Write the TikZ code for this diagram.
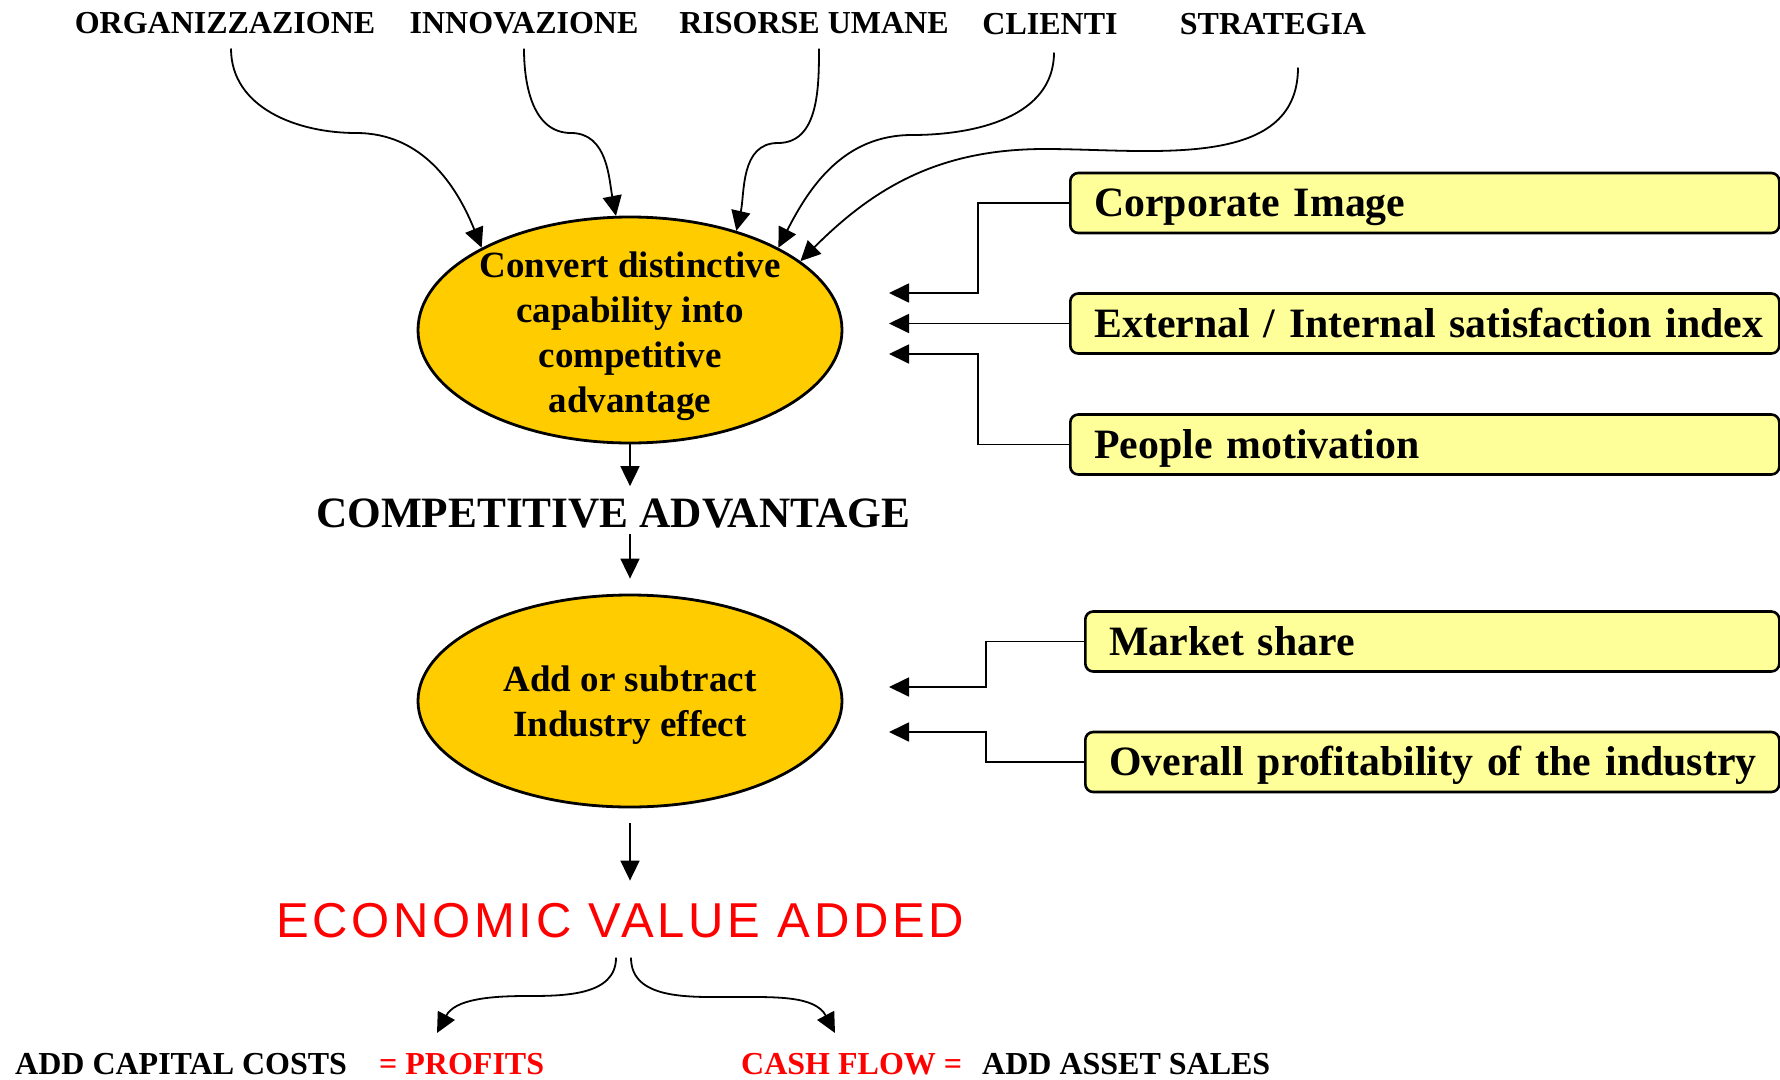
\documentclass[tikz,border=0pt]{standalone}
\usepackage{fontspec}
\usetikzlibrary{arrows.meta,shapes.geometric,calc}
\newfontfamily\tnr{Liberation Serif}
\newfontfamily\evaf[LetterSpace=7.5]{Liberation Sans}
\definecolor{goldfill}{HTML}{FFCC00}
\definecolor{boxfill}{HTML}{FFFF99}
\definecolor{evared}{HTML}{FF0000}
\begin{document}
\begin{tikzpicture}[x=1pt,y=1pt,
  conn/.style={line width=1.8pt,-{Triangle[length=20pt,width=19pt]}},
  elbow/.style={conn,rounded corners=0pt},
  toplbl/.style={anchor=base,inner sep=0pt,font=\tnr\bfseries\fontsize{32}{36}\selectfont},
  oval/.style={ellipse,draw=black,line width=2.8pt,fill=goldfill,minimum width=424pt,inner sep=0pt},
  ovaltext/.style={align=center,inner sep=0pt,font=\tnr\bfseries\fontsize{37}{45}\selectfont},
  ibox/.style={draw=black,line width=2.6pt,fill=boxfill,rounded corners=8pt,anchor=west,
    minimum height=60pt,inner xsep=8pt,inner ysep=0pt,text height=36pt,text depth=9pt,
    align=left,font=\tnr\bfseries\fontsize{41.8}{46}\selectfont},
  botlbl/.style={anchor=base west,inner sep=0pt,font=\tnr\bfseries\fontsize{32}{36}\selectfont}]
\useasboundingbox (0,0) rectangle (1780,-1079);
\fill[white] (0,0) rectangle (1780,-1079);

% top labels
\node[toplbl] (org) at (225,-33) {ORGANIZZAZIONE};
\node[toplbl] (inn) at (524,-33) {INNOVAZIONE};
\node[toplbl] (ris) at (814,-33) {RISORSE UMANE};
\node[toplbl] (cli) at (1050,-34) {CLIENTI};
\node[toplbl] (str) at (1273,-34) {STRATEGIA};

% ellipses
\node[oval,minimum height=226pt] (e1) at (630,-330) {};
\node[ovaltext] (e1t) at (630,-336) {Convert distinctive\\capability into\\competitive\\advantage};
\node[oval,minimum height=212pt] (e2) at (630,-701) {};
\node[ovaltext] (e2t) at (630,-705) {Add or subtract\\Industry effect};

% middle labels
\node[anchor=base,inner sep=0pt,font=\tnr\bfseries\fontsize{43.3}{47}\selectfont] (ca) at (613,-527) {COMPETITIVE ADVANTAGE};
\node[anchor=base west,inner sep=0pt,text=evared,font=\evaf\fontsize{49}{54}\selectfont] (eva) at (276,-937) {ECONOMIC VALUE ADDED};

% bottom labels
\node[botlbl] (acc) at (15,-1074) {ADD CAPITAL COSTS};
\node[botlbl,text=evared] (prof) at (379,-1074) {= PROFITS};
\node[botlbl,text=evared] (cash) at (741,-1074) {CASH FLOW =};
\node[botlbl] (aas) at (982,-1074) {ADD ASSET SALES};

% right boxes
\node[ibox,text width=693pt] (b1) at (1069,-203) {\mbox{\hspace*{16pt}Corporate Image}};
\node[ibox,text width=693pt] (b2) at (1069,-323.5) {\mbox{\hspace*{16pt}External / Internal satisfaction index}};
\node[ibox,text width=693pt] (b3) at (1069,-444.5) {\mbox{\hspace*{16pt}People motivation}};
\node[ibox,text width=678pt] (b4) at (1084,-641.5) {\mbox{\hspace*{16pt}Market share}};
\node[ibox,text width=678pt] (b5) at (1084,-762) {\mbox{\hspace*{16pt}Overall profitability of the industry}};

% arrow tip coordinates near ellipses
\coordinate (t1) at (889,-293);
\coordinate (t2) at (889,-323.5);
\coordinate (t3) at (889,-354);
\coordinate (t4) at (889,-687);
\coordinate (t5) at (889,-732);

% elbow connectors
\draw[elbow] (b1.west) -- (978,-203) |- (t1);
\draw[elbow] (b2.west) -- (t2);
\draw[elbow] (b3.west) -- (978,-444.5) |- (t3);
\draw[elbow] (b4.west) -- (986,-641.5) |- (t4);
\draw[elbow] (b5.west) -- (986,-762) |- (t5);

% top curved connectors
\coordinate (m1) at (356,-133);
\coordinate (m2) at (571,-133);
\coordinate (m3) at (778,-143);
\coordinate (m4) at (912,-135);
\coordinate (m5) at (1045,-149);
\draw[conn] ([xshift=6pt,yshift=-15pt]org.south) to[out=-90,in=180] (m1) to[out=0,in=112] (e1.151.2);
\draw[conn] ([yshift=-15pt]inn.south) to[out=-90,in=180] (m2) to[out=0,in=101] (e1.97.6);
\draw[conn] ([xshift=5pt,yshift=-15pt]ris.south) to[out=-90,in=0] (m3) to[out=180,in=77] (e1.43);
\draw[conn] ([xshift=4pt,yshift=-18pt]cli.south) to[out=-90,in=0] (m4) to[out=180,in=63] (e1.29.5);
\draw[conn] ([xshift=25pt,yshift=-33pt]str.south) to[out=-90,in=0] (m5) to[out=180,in=45] (e1.22.5);

% vertical flow
\draw[conn,shorten >=12pt] (e1.south) -- (e1.south |- ca.north);
\draw[conn,shorten <=6pt,shorten >=15pt] (e2.north |- ca.south) -- (e2.north);
\draw[conn,shorten <=15pt,shorten >=22pt] (e2.south) -- (e2.south |- eva.north);

% bottom curved connectors
\coordinate (ml) at (527,-996);
\coordinate (mr) at (732,-997);
\coordinate (tl) at (437,-1033);
\coordinate (tr) at (835,-1033);
\draw[conn] ([xshift=-14pt,yshift=-20pt]e2.south |- eva.south) to[out=-90,in=0] (ml) to[out=180,in=62] (tl);
\draw[conn] ([xshift=1pt,yshift=-20pt]e2.south |- eva.south) to[out=-90,in=180] (mr) to[out=0,in=118] (tr);
\end{tikzpicture}
\end{document}
